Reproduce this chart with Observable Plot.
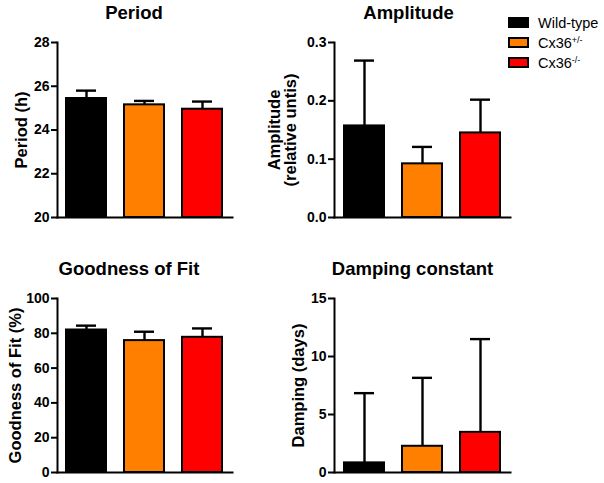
<!DOCTYPE html>
<html><head><meta charset="utf-8">
<script src="https://cdn.jsdelivr.net/npm/d3@7"></script>
<script src="https://cdn.jsdelivr.net/npm/@observablehq/plot@0.6"></script>
<style>
body{margin:0;background:#fff;}
#root{position:relative;width:604px;height:483px;font-family:"Liberation Sans",Arial,Helvetica,sans-serif;overflow:hidden;}
.panel{position:absolute;}
.panel [aria-label="y-axis tick label"]{font-size:14px;font-weight:bold;}
.legend-row{position:absolute;left:508px;height:20px;display:flex;align-items:center;font-size:14.5px;color:#000;white-space:nowrap;}
.sw{width:21px;height:11px;border:2px solid #000;box-sizing:border-box;margin-right:9px;}
.legend-row sup{font-size:9px;vertical-align:5px;line-height:0;}
</style></head><body><div id="root"></div>
<script>
// Categories and legend
const groups = ["Wild-type", "Cx36+/-", "Cx36-/-"];
const legendBase = ["Wild-type", "Cx36", "Cx36"];
const legendSup = ["", "+/-", "-/-"];
const colors = ["#000000", "#FF8000", "#FF0000"];

// Series values (mean and upper error)
const periodMean = [25.44, 25.15, 24.95];
const periodErr = [0.36, 0.18, 0.35];
const amplitudeMean = [0.157, 0.092, 0.145];
const amplitudeErr = [0.112, 0.029, 0.057];
const fitMean = [81.9, 75.8, 77.7];
const fitErr = [2.5, 5.1, 5.1];
const dampingMean = [0.83, 2.26, 3.46];
const dampingErr = [6.01, 5.9, 8.04];

// Tick labels
const periodTicks = [20, 22, 24, 26, 28];
const amplitudeTicks = [0, 0.1, 0.2, 0.3];
const fitTicks = [0, 20, 40, 60, 80, 100];
const dampingTicks = [0, 5, 10, 15];

const panels = [
  {title: "Period", ylabel: "Period (h)", mean: periodMean, err: periodErr, ticks: periodTicks, fmt: d => String(d),
   left: 0, top: 0, width: 250, height: 236, ml: 57, mr: 18, mt: 42, mb: 19, titleDx: -11, labelDx: -36},
  {title: "Amplitude", ylabel: "Amplitude\n(relative untis)", mean: amplitudeMean, err: amplitudeErr, ticks: amplitudeTicks, fmt: d3.format(".1f"),
   left: 260, top: 0, width: 252, height: 236, ml: 74, mr: 2, mt: 42, mb: 19, titleDx: -14, labelDx: -52},
  {title: "Goodness of Fit", ylabel: "Goodness of Fit (%)", mean: fitMean, err: fitErr, ticks: fitTicks, fmt: d => String(d),
   left: 0, top: 240, width: 250, height: 243, ml: 57, mr: 18, mt: 58, mb: 11, titleDx: -16, labelDx: -42},
  {title: "Damping constant", ylabel: "Damping (days)", mean: dampingMean, err: dampingErr, ticks: dampingTicks, fmt: d => String(d),
   left: 260, top: 240, width: 252, height: 243, ml: 74, mr: 2, mt: 58, mb: 11, titleDx: -10, labelDx: -36}
];

const root = document.getElementById("root");

for (const p of panels) {
  const data = groups.map((g, i) => ({group: g, value: p.mean[i], upper: p.mean[i] + p.err[i], color: colors[i]}));
  const y0 = p.ticks[0];
  const y1 = p.ticks[p.ticks.length - 1];
  const chart = Plot.plot({
    width: p.width,
    height: p.height,
    marginLeft: p.ml,
    marginRight: p.mr,
    marginTop: p.mt,
    marginBottom: p.mb,
    style: {background: "transparent", fontFamily: "'Liberation Sans', Arial, Helvetica, sans-serif", fontSize: "14px", fontWeight: "bold", color: "#000", overflow: "visible"},
    x: {domain: groups, axis: null, paddingInner: 0.31, paddingOuter: 0.16},
    y: {domain: [y0, y1]},
    marks: [
      Plot.barY(data, {x: "group", y1: () => y0, y2: "value", fill: "color", stroke: "#000", strokeWidth: 2}),
      Plot.ruleX(data, {x: "group", y1: "value", y2: "upper", stroke: "#000", strokeWidth: 2.4}),
      Plot.tickY(data, {x: "group", y: "upper", stroke: "#000", strokeWidth: 2.4, insetLeft: 10, insetRight: 10}),
      Plot.frame({anchor: "left", stroke: "#000", strokeWidth: 2}),
      Plot.frame({anchor: "bottom", stroke: "#000", strokeWidth: 2}),
      Plot.axisY({ticks: p.ticks, tickFormat: p.fmt, tickSize: 6, tickPadding: 2, strokeWidth: 2, label: null, fontSize: 14, fontWeight: "bold"}),
      Plot.text([p.title], {frameAnchor: "top", dy: -29, dx: p.titleDx, text: d => d, fontSize: 18.5, fontWeight: "bold", lineAnchor: "middle", textAnchor: "middle"}),
      Plot.text([p.ylabel], {frameAnchor: "left", dx: p.labelDx, text: d => d, rotate: -90, fontSize: 16.5, fontWeight: "bold", lineAnchor: "middle", textAnchor: "middle", lineHeight: 0.98})
    ]
  });
  chart.classList.add("panel");
  chart.style.left = p.left + "px";
  chart.style.top = p.top + "px";
  root.appendChild(chart);
}

// Legend
groups.forEach((g, i) => {
  const row = document.createElement("div");
  row.className = "legend-row";
  row.style.top = (12.5 + i * 20) + "px";
  const sw = document.createElement("div");
  sw.className = "sw";
  sw.style.background = colors[i];
  row.appendChild(sw);
  const label = document.createElement("span");
  label.textContent = legendBase[i];
  if (legendSup[i]) {
    const s = document.createElement("sup");
    s.textContent = legendSup[i];
    label.appendChild(s);
  }
  row.appendChild(label);
  root.appendChild(row);
});
</script>
</body></html>
